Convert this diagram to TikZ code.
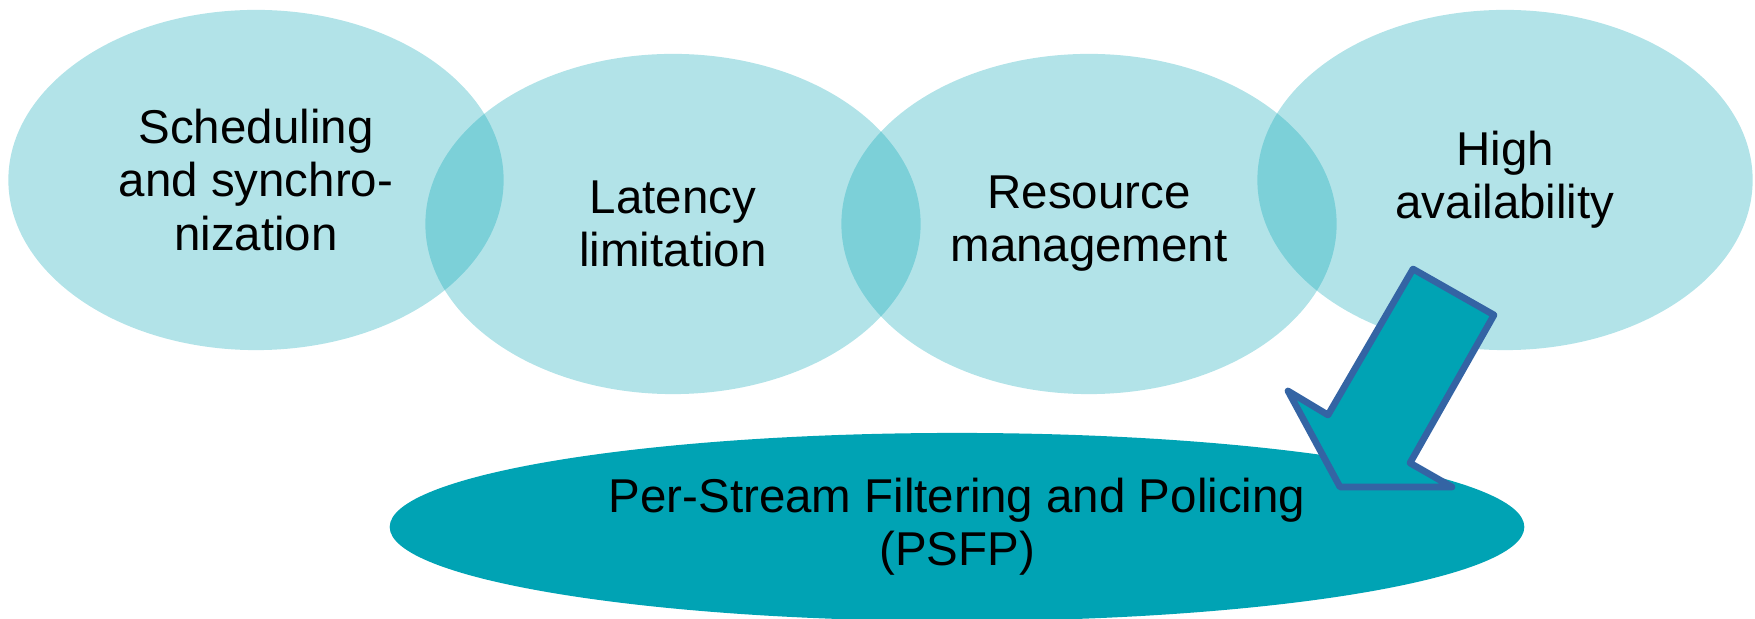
\documentclass[tikz,border=0pt]{standalone}
\usepackage{fontspec}
\setmainfont{Liberation Sans}
\usetikzlibrary{shapes.geometric}
\definecolor{tsnteal}{RGB}{0,163,180}
\definecolor{arrowblue}{RGB}{52,100,164}
\begin{document}
\begin{tikzpicture}[x=0.01cm,y=-0.01cm,inner sep=0pt,outer sep=0pt,
goal/.style={ellipse,fill=tsnteal,fill opacity=0.3,text opacity=1,minimum width=4.95cm,minimum height=3.4cm,align=center,font=\fontsize{13.5}{15.1}\selectfont},
psfp/.style={ellipse,fill=tsnteal,minimum width=11.34cm,minimum height=1.88cm,align=center,font=\fontsize{13.5}{15.1}\selectfont},
bigarrow/.style={draw=arrowblue,fill=tsnteal,line width=1.9pt,line join=round}]

\useasboundingbox (0,0) rectangle (1755,619);

% the four sub-goals
\draw (256,180) node[goal] (sched) {Scheduling\\and synchro-\\nization};
\draw (673,224) node[goal] (lat) {Latency\\limitation};
\draw (1089,224) node[goal] (res) {Resource\\management};
\draw (1505,180) node[goal] (avail) {High\\availability};

% the standard
\draw (957,527) node[psfp] (psfp) {Per-Stream Filtering and Policing\\(PSFP)};

\draw[bigarrow] (1413,269) -- (1494,315) -- (1410,463) -- (1452,487) -- (1340,487)
  -- (1288,391) -- (1328,415) -- cycle;
\end{tikzpicture}
\end{document}
